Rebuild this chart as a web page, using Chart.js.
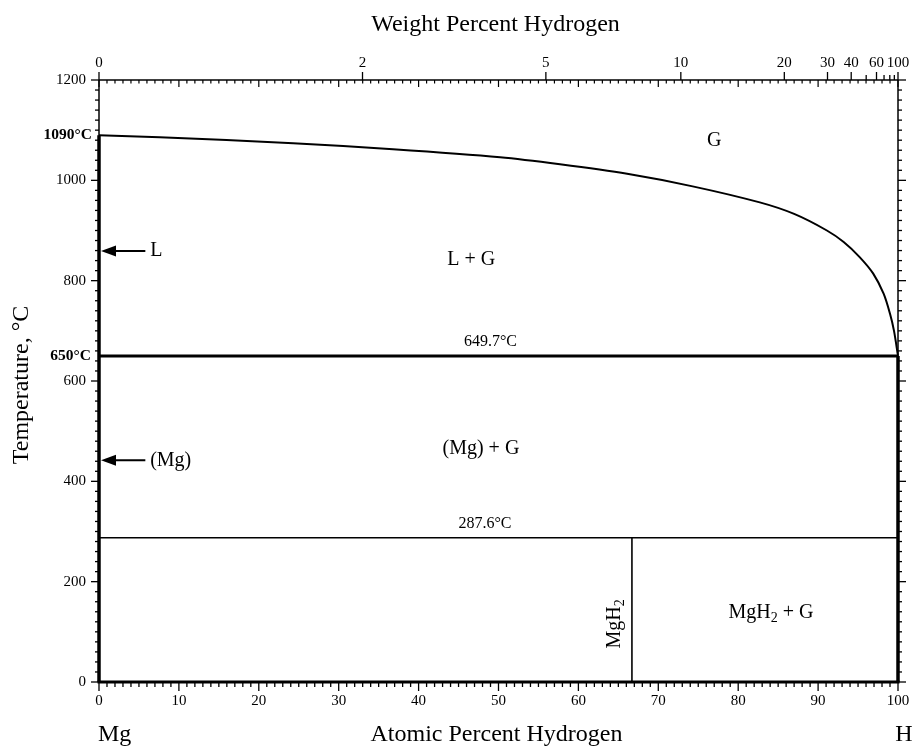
<!DOCTYPE html>
<html>
<head>
<meta charset="utf-8">
<title>Mg-H</title>
<script src="https://cdn.jsdelivr.net/npm/chart.js@4.4.1/dist/chart.umd.min.js"></script>
<style>
  html, body { margin: 0; padding: 0; background: #fff; }
  #wrap { width: 919px; height: 749px; }
</style>
</head>
<body>
<div id="wrap"><canvas id="phase" width="919" height="749"></canvas></div>
<script>
// liquidus (L + G / G boundary): at.% H and °C
const liquidusX = [0, 7.6, 24.3, 36.8, 50.2, 57.7, 66.1, 74.3, 82.7, 87.0, 91.1, 93.2, 95.2, 96.9, 98.2, 99.0, 99.5, 100];
const liquidusT = [1090, 1086, 1074, 1062, 1046, 1032, 1013, 988, 956, 933, 900, 877, 847, 814, 774, 734, 700, 650];

const boilT = 1090;        // Mg boiling point
const meltT = 650;         // Mg melting point
const eutecticT = 649.7;
const hydrideT = 287.6;    // MgH2 decomposition
const hydrideX = 66.7;     // MgH2 composition

const atomicTicks = [0, 10, 20, 30, 40, 50, 60, 70, 80, 90, 100];
const tempTicks = [0, 200, 400, 600, 800, 1000, 1200];
const weightTicks = [0, 2, 5, 10, 20, 30, 40, 60, 100];
const weightMinor = [50, 70, 80, 90];

const serif = '"Liberation Serif", "Times New Roman", serif';

// wt.% H -> at.% H (Mg 24.305, H 1.008)
function wtToAt(w) {
  if (w >= 100) return 100;
  const r = (w / (100 - w)) * (24.305 / 1.008);
  return 100 * r / (1 + r);
}

function seg(ctx, x1, y1, x2, y2, w) {
  ctx.lineWidth = w;
  ctx.beginPath();
  ctx.moveTo(x1, y1);
  ctx.lineTo(x2, y2);
  ctx.stroke();
}

// text with subscript parts: [[text, isSub], ...]
function subText(ctx, parts, x, y, size, align) {
  let total = 0;
  parts.forEach(([t, sub]) => {
    ctx.font = (sub ? size * 0.7 : size) + 'px ' + serif;
    total += ctx.measureText(t).width;
  });
  let cx = align === 'center' ? x - total / 2 : x;
  ctx.textAlign = 'left';
  parts.forEach(([t, sub]) => {
    ctx.font = (sub ? size * 0.7 : size) + 'px ' + serif;
    ctx.fillText(t, cx, sub ? y + size * 0.28 : y);
    cx += ctx.measureText(t).width;
  });
}

const frame = {
  id: 'frame',
  afterDatasetsDraw(chart) {
    const { ctx, scales: { x, y } } = chart;
    const X = v => x.getPixelForValue(v);
    const Y = v => y.getPixelForValue(v);
    ctx.save();
    ctx.strokeStyle = '#000';
    ctx.fillStyle = '#000';
    ctx.lineCap = 'butt';

    // box
    seg(ctx, X(0), Y(1200), X(100), Y(1200), 1.5);
    seg(ctx, X(0), Y(0), X(0), Y(1200), 1.5);
    seg(ctx, X(100), Y(0), X(100), Y(1200), 1.5);
    seg(ctx, X(0) - 1.5, Y(0), X(100) + 1.5, Y(0), 3);

    // bottom: atomic %, outward; top: same ticks, inward
    for (let a = 0; a <= 100; a++) {
      const major = a % 10 === 0;
      seg(ctx, X(a), Y(0) + 1, X(a), Y(0) + (major ? 9 : 5), 1.3);
      seg(ctx, X(a), Y(1200), X(a), Y(1200) + (major ? 7 : 3.5), 1.2);
    }
    // left / right temperature ticks, outward
    for (let t = 0; t <= 1200; t += 20) {
      const major = t % 200 === 0;
      const len = major ? 8 : 4;
      seg(ctx, X(0), Y(t), X(0) - len, Y(t), 1.3);
      seg(ctx, X(100), Y(t), X(100) + len, Y(t), 1.3);
    }
    // top: weight % ticks, outward
    weightTicks.forEach(w => seg(ctx, X(wtToAt(w)), Y(1200), X(wtToAt(w)), Y(1200) - 8, 1.3));
    weightMinor.forEach(w => seg(ctx, X(wtToAt(w)), Y(1200), X(wtToAt(w)), Y(1200) - 5, 1.3));

    // tick labels
    ctx.font = '15px ' + serif;
    ctx.textBaseline = 'middle';
    ctx.textAlign = 'center';
    atomicTicks.forEach(a => ctx.fillText(String(a), X(a), Y(0) + 19));
    weightTicks.forEach(w => ctx.fillText(String(w), X(wtToAt(w)), Y(1200) - 17));
    ctx.textAlign = 'right';
    tempTicks.forEach(t => ctx.fillText(String(t), X(0) - 13, Y(t)));
    ctx.font = 'bold 15.5px ' + serif;
    ctx.fillText(boilT + '\u00B0C', X(0) - 7, Y(boilT));
    ctx.fillText(meltT + '\u00B0C', X(0) - 8, Y(meltT));

    // axis titles
    ctx.font = '24px ' + serif;
    ctx.textAlign = 'center';
    ctx.fillText('Weight Percent Hydrogen', (X(0) + X(100)) / 2 - 3, 25);
    ctx.fillText('Atomic Percent Hydrogen', (X(0) + X(100)) / 2 - 2, 735);
    ctx.textAlign = 'left';
    ctx.fillText('Mg', X(0) - 1, 735);
    ctx.textAlign = 'center';
    ctx.fillText('H', X(100) + 6, 735);
    ctx.save();
    ctx.translate(22, 385);
    ctx.rotate(-Math.PI / 2);
    ctx.fillText('Temperature, \u00B0C', 0, 0);
    ctx.restore();

    // arrows for pure Mg phases
    [[859, 'L'], [442, '(Mg)']].forEach(([t, lab]) => {
      const py = Y(t), x0 = X(0) + 2, x1 = X(5.8);
      seg(ctx, x0 + 8, py, x1, py, 2);
      ctx.beginPath();
      ctx.moveTo(x0, py);
      ctx.lineTo(x0 + 15, py - 5.5);
      ctx.lineTo(x0 + 15, py + 5.5);
      ctx.closePath();
      ctx.fill();
      ctx.font = '20px ' + serif;
      ctx.textAlign = 'left';
      ctx.fillText(lab, X(6.4), py);
    });

    // region labels
    ctx.font = '20px ' + serif;
    ctx.textAlign = 'center';
    ctx.fillText('G', X(77), Y(1078));
    ctx.fillText('L + G', X(46.6), Y(841));
    ctx.fillText('(Mg) + G', X(47.8), Y(464));
    subText(ctx, [['MgH', false], ['2', true], [' + G', false]], X(84.1), Y(139), 20, 'center');
    ctx.save();
    ctx.translate(X(64.6), Y(116));
    ctx.rotate(-Math.PI / 2);
    subText(ctx, [['MgH', false], ['2', true]], 0, 0, 20, 'center');
    ctx.restore();

    ctx.font = '16px ' + serif;
    ctx.textAlign = 'center';
    ctx.fillText(eutecticT + '\u00B0C', X(49), Y(eutecticT) - 14);
    ctx.fillText(hydrideT + '\u00B0C', X(48.3), Y(hydrideT) - 14);

    ctx.restore();
  }
};

const lineStyle = { showLine: true, pointRadius: 0, borderColor: '#000', borderCapStyle: 'butt', clip: false };

new Chart(document.getElementById('phase'), {
  type: 'scatter',
  data: {
    datasets: [
      { ...lineStyle, data: liquidusX.map((v, i) => ({ x: v, y: liquidusT[i] })), borderWidth: 2, tension: 0.3 },
      { ...lineStyle, data: [{ x: 0, y: eutecticT }, { x: 100, y: eutecticT }], borderWidth: 3 },
      { ...lineStyle, data: [{ x: 0, y: hydrideT }, { x: 100, y: hydrideT }], borderWidth: 1.6 },
      { ...lineStyle, data: [{ x: hydrideX, y: 0 }, { x: hydrideX, y: hydrideT }], borderWidth: 1.6 },
      { ...lineStyle, data: [{ x: 0, y: 0 }, { x: 0, y: boilT }], borderWidth: 3.5 },
      { ...lineStyle, data: [{ x: 100, y: 0 }, { x: 100, y: meltT }], borderWidth: 3.5 }
    ]
  },
  options: {
    responsive: false,
    animation: false,
    devicePixelRatio: 1,
    layout: { padding: { left: 99, right: 21, top: 80, bottom: 67 } },
    plugins: { legend: { display: false }, tooltip: { enabled: false } },
    scales: {
      x: { type: 'linear', min: 0, max: 100, display: false },
      y: { type: 'linear', min: 0, max: 1200, display: false }
    }
  },
  plugins: [frame]
});
</script>
</body>
</html>
